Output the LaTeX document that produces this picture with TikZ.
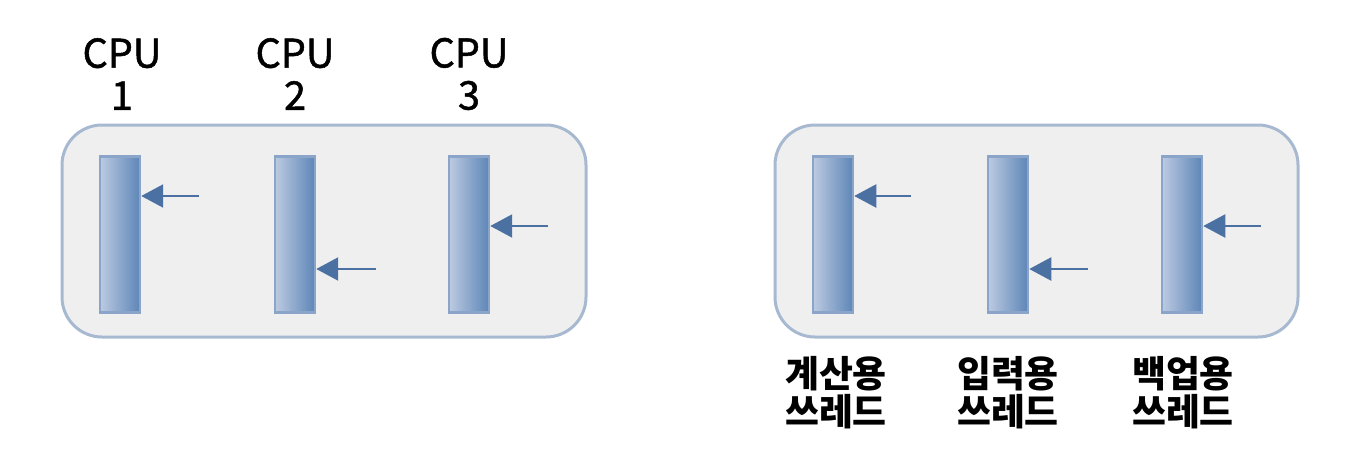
\documentclass[tikz,border=0pt]{standalone}
\usepackage{fontspec}
\setmainfont{Noto Sans CJK KR}
\newfontfamily\cpufont{Noto Sans CJK KR}[FakeBold=1.3]
\usetikzlibrary{arrows.meta}

\definecolor{panelfill}{HTML}{EFEFEF}
\definecolor{panelline}{HTML}{A7B9D1}
\definecolor{barline}{HTML}{8AA5C9}
\definecolor{barleft}{HTML}{BCCAE1}
\definecolor{barright}{HTML}{5D86B7}
\definecolor{ptrblue}{HTML}{4B70A2}

\begin{document}
\begin{tikzpicture}[x=0.02cm,y=-0.02cm,
	panel/.style={draw=panelline,fill=panelfill,line width=0.6mm,rounded corners=0.8cm},
	bar/.style={draw=barline,line width=0.5mm,left color=barleft,right color=barright,minimum width=0.8cm,minimum height=3.12cm,inner sep=0pt},
	ptr/.style={draw=ptrblue,line width=0.45mm,-{Triangle[length=4.4mm,width=4.6mm]}},
	cpulabel/.style={align=center,font=\fontsize{22.5}{24}\cpufont},
	thrlabel/.style={align=center,font=\fontsize{21}{21.5}\selectfont\bfseries}]
	\useasboundingbox (0,0) rectangle (1368,470);

	% Processes (rounded panels)
	\draw[panel] (62,125) rectangle (586,337);
	\draw[panel] (775,125) rectangle (1298,337);

	% Left: one bar per CPU
	\node[bar] (c1) at (120,234.5) {};
	\node[bar] (c2) at (295,234.5) {};
	\node[bar] (c3) at (469,234.5) {};
	\node[cpulabel] (l1) at (122,74) {CPU\\1};
	\node[cpulabel] (l2) at (295,74) {CPU\\2};
	\node[cpulabel] (l3) at (469,74) {CPU\\3};

	% Right: one bar per thread
	\node[bar] (t1) at (833,234.5) {};
	\node[bar] (t2) at (1008,234.5) {};
	\node[bar] (t3) at (1182,234.5) {};
	\node[thrlabel] (n1) at (836,393) {계산용\\쓰레드};
	\node[thrlabel] (n2) at (1008,393) {입력용\\쓰레드};
	\node[thrlabel] (n3) at (1183,393) {백업용\\쓰레드};

	% Execution pointers
	\coordinate (p1) at (199,196);
	\coordinate (p2) at (376,269);
	\coordinate (p3) at (548,226);
	\draw[ptr] (p1) -- (c1.east |- p1);
	\draw[ptr] (p2) -- (c2.east |- p2);
	\draw[ptr] (p3) -- (c3.east |- p3);
	\coordinate (q1) at (911,196);
	\coordinate (q2) at (1088,269);
	\coordinate (q3) at (1261,226);
	\draw[ptr] (q1) -- (t1.east |- q1);
	\draw[ptr] (q2) -- (t2.east |- q2);
	\draw[ptr] (q3) -- (t3.east |- q3);

\end{tikzpicture}
\end{document}
